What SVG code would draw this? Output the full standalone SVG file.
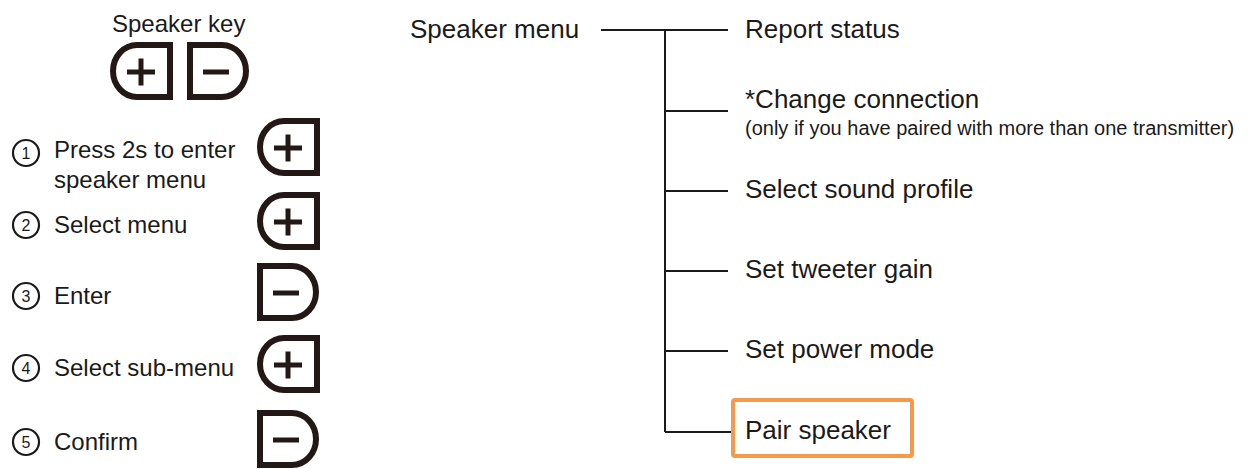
<svg xmlns="http://www.w3.org/2000/svg" width="1251" height="469" viewBox="0 0 1251 469">
<style>
.t{font-family:"Liberation Sans",Arial,sans-serif;fill:#1a1a1a}
.l{font-size:24px}
.r{font-size:26px}
.s{font-size:20px}
.n{font-size:16px;text-anchor:middle}
.key{fill:none;stroke:#231815;stroke-width:6;stroke-linejoin:miter}
.sym{stroke:#231815;stroke-width:5;fill:none}
.circ{fill:none;stroke:#1a1a1a;stroke-width:2.2}
.conn{stroke:#1a1a1a;stroke-width:2;fill:none}
</style>
<defs>
<g id="plusKey">
<path class="key" d="M60 3 H27 A24 26 0 0 0 27 55 H60 Z"/>
<path class="sym" d="M17 30 H45 M31 16.5 V43.5"/>
</g>
<g id="minusKey">
<path class="key" d="M3 3 H35 A24 26 0 0 1 35 55 H3 Z"/>
<path class="sym" d="M16 30 H42"/>
</g>
</defs>
<g id="speaker-key">
<text class="t" x="112" y="32" font-size="24">Speaker key</text>
<use href="#plusKey" x="110" y="42"/>
<use href="#minusKey" x="187" y="42"/>
</g>
<g id="step1">
<circle class="circ" cx="26" cy="153" r="13"/>
<text class="t n" x="26" y="159">1</text>
<text class="t l" x="54" y="158">Press 2s to enter</text>
<text class="t l" x="54" y="188">speaker menu</text>
<use href="#plusKey" x="257" y="118"/>
</g>
<g id="step2">
<circle class="circ" cx="26" cy="225" r="13"/>
<text class="t n" x="26" y="231">2</text>
<text class="t l" x="54" y="233">Select menu</text>
<use href="#plusKey" x="257" y="192"/>
</g>
<g id="step3">
<circle class="circ" cx="26" cy="296" r="13"/>
<text class="t n" x="26" y="302">3</text>
<text class="t l" x="54" y="304">Enter</text>
<use href="#minusKey" x="257" y="263"/>
</g>
<g id="step4">
<circle class="circ" cx="26" cy="368" r="13"/>
<text class="t n" x="26" y="374">4</text>
<text class="t l" x="54" y="376">Select sub-menu</text>
<use href="#plusKey" x="257" y="335"/>
</g>
<g id="step5">
<circle class="circ" cx="26" cy="442" r="13"/>
<text class="t n" x="26" y="448">5</text>
<text class="t l" x="54" y="450">Confirm</text>
<use href="#minusKey" x="257" y="410"/>
</g>
<g id="connectors">
<path class="conn" d="M601 30 H728 M665 30 V432 M665 111 H728 M665 191 H728 M665 271 H728 M665 351 H728 M665 432 H731"/>
</g>
<g id="speaker-menu"><text class="t r" x="410" y="38">Speaker menu</text></g>
<g id="report-status"><text class="t r" x="745" y="38">Report status</text></g>
<g id="change-connection">
<text class="t r" x="745" y="108">*Change connection</text>
<text class="t s" x="745" y="135">(only if you have paired with more than one transmitter)</text>
</g>
<g id="select-sound-profile"><text class="t r" x="745" y="198">Select sound profile</text></g>
<g id="set-tweeter-gain"><text class="t r" x="745" y="278">Set tweeter gain</text></g>
<g id="set-power-mode"><text class="t r" x="745" y="358">Set power mode</text></g>
<g id="pair-speaker">
<rect x="733" y="400" width="179" height="56" rx="2" fill="none" stroke="#F5994A" stroke-width="4"/>
<text class="t r" x="745" y="439">Pair speaker</text>
</g>
</svg>
